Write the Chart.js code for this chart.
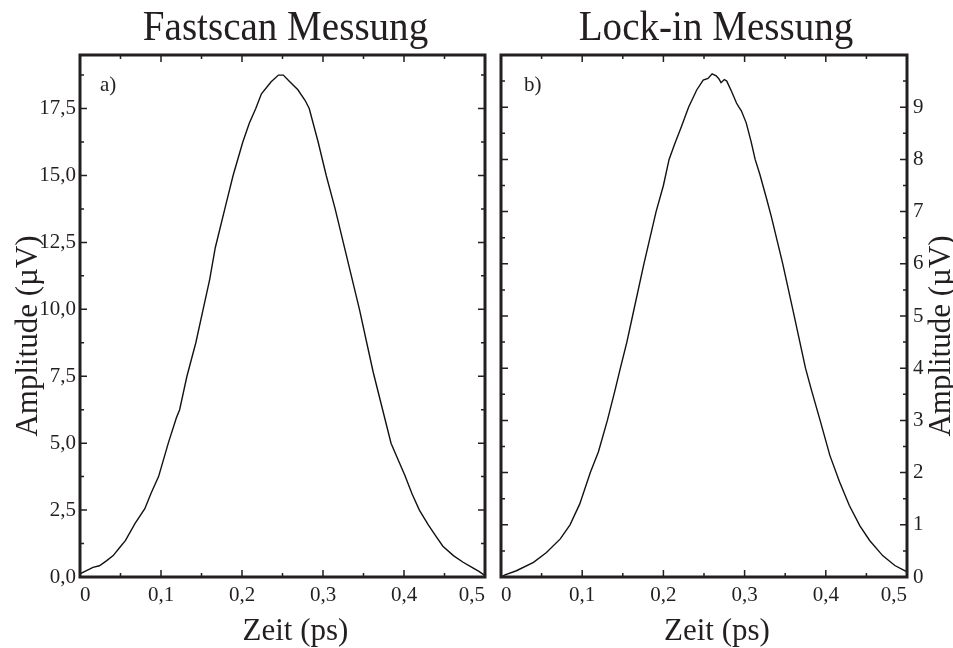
<!DOCTYPE html>
<html>
<head>
<meta charset="utf-8">
<script src="https://cdn.jsdelivr.net/npm/chart.js@4/dist/chart.umd.min.js"></script>
<style>
  html, body { margin: 0; padding: 0; background: #fff; }
  #wrap { position: relative; width: 953px; height: 648px; overflow: hidden; background: #fff; }
  #wrap canvas { position: absolute; top: 0; }
  #panelA { left: 0; }
  #panelB { left: 493px; }
</style>
</head>
<body>
<div id="wrap">
  <canvas id="panelA" width="493" height="648"></canvas>
  <canvas id="panelB" width="460" height="648"></canvas>
</div>
<script>
// Panel a) fast scan: delay time (ps) and amplitude (µV)
const fastTime = [0, 0.008, 0.016, 0.024, 0.033, 0.041, 0.049, 0.056, 0.068, 0.080, 0.088, 0.097,
  0.109, 0.119, 0.123, 0.132, 0.143, 0.152, 0.160, 0.167, 0.180, 0.189, 0.201, 0.209, 0.217, 0.224,
  0.236, 0.245, 0.251, 0.259, 0.269, 0.278, 0.283, 0.294, 0.304, 0.315, 0.325, 0.335, 0.345, 0.354,
  0.362, 0.374, 0.384, 0.391, 0.401, 0.410, 0.419, 0.430, 0.440, 0.448, 0.461, 0.473, 0.485, 0.493, 0.500];
const fastAmp = [0.12, 0.24, 0.36, 0.42, 0.61, 0.80, 1.10, 1.36, 2.00, 2.55, 3.15, 3.75,
  5.00, 5.95, 6.25, 7.50, 8.75, 10.00, 11.10, 12.30, 13.90, 15.00, 16.25, 16.95, 17.50, 18.05,
  18.50, 18.75, 18.75, 18.50, 18.20, 17.80, 17.50, 16.25, 15.00, 13.75, 12.50, 11.25, 10.00, 8.75,
  7.65, 6.20, 5.00, 4.50, 3.80, 3.10, 2.50, 1.95, 1.50, 1.15, 0.80, 0.55, 0.34, 0.20, 0.05];

// Panel b) lock-in: delay time (ps) and amplitude (µV)
const lockTime = [0, 0.005, 0.019, 0.040, 0.056, 0.073, 0.085, 0.097, 0.110, 0.120, 0.131, 0.140,
  0.147, 0.155, 0.162, 0.176, 0.191, 0.200, 0.207, 0.214, 0.222, 0.231, 0.241, 0.249, 0.255, 0.260,
  0.265, 0.268, 0.271, 0.275, 0.278, 0.284, 0.290, 0.293, 0.296, 0.302, 0.308, 0.313, 0.319, 0.327,
  0.333, 0.340, 0.347, 0.360, 0.375, 0.382, 0.393, 0.405, 0.417, 0.429, 0.442, 0.454, 0.470,
  0.485, 0.500];
const lockAmp = [0.00, 0.04, 0.12, 0.28, 0.47, 0.73, 1.00, 1.40, 2.00, 2.40, 3.00, 3.55,
  4.00, 4.50, 5.00, 6.00, 7.00, 7.50, 8.00, 8.30, 8.62, 9.00, 9.33, 9.52, 9.55, 9.64,
  9.60, 9.55, 9.47, 9.53, 9.50, 9.30, 9.08, 9.00, 8.93, 8.70, 8.34, 8.00, 7.70, 7.25,
  6.90, 6.45, 6.00, 5.08, 4.00, 3.60, 3.00, 2.33, 1.82, 1.37, 0.98, 0.70, 0.41,
  0.22, 0.10];

// Tick values and their printed labels (German decimal comma)
const timeTicks = [0, 0.1, 0.2, 0.3, 0.4, 0.5];
const timeTickLabels = ['0', '0,1', '0,2', '0,3', '0,4', '0,5'];
const fastAmpTicks = [0, 2.5, 5, 7.5, 10, 12.5, 15, 17.5];
const fastAmpTickLabels = ['0,0', '2,5', '5,0', '7,5', '10,0', '12,5', '15,0', '17,5'];
const lockAmpTicks = [0, 1, 2, 3, 4, 5, 6, 7, 8, 9];
const lockAmpTickLabels = ['0', '1', '2', '3', '4', '5', '6', '7', '8', '9'];

const panelTitles = ['Fastscan Messung', 'Lock-in Messung'];
const panelLetters = ['a)', 'b)'];
const timeAxisTitle = 'Zeit (ps)';
const ampAxisTitle = 'Amplitude (µV)';

const INK = '#231f20';
const SERIF = '"Liberation Serif", "Times New Roman", "DejaVu Serif", serif';

// minor ticks halfway between majors (plus one past the last major when it fits)
function minorTicks(major, max) {
  const out = [];
  for (let i = 0; i < major.length - 1; i++) out.push((major[i] + major[i + 1]) / 2);
  const step = major[1] - major[0];
  const extra = major[major.length - 1] + step / 2;
  if (extra < max - 1e-9) out.push(extra);
  return out;
}

function drawText(ctx, text, x, y, size, opts) {
  ctx.save();
  ctx.translate(x, y);
  if (opts.rot) ctx.rotate(opts.rot);
  ctx.scale(opts.sx || 1, 1);
  ctx.font = size + 'px ' + SERIF;
  ctx.fillStyle = INK;
  ctx.textAlign = opts.align || 'left';
  ctx.textBaseline = 'alphabetic';
  ctx.fillText(text, 0, 0);
  ctx.restore();
}

// Frame, inward ticks on all four sides, titles and panel letter
const panelDecor = {
  id: 'panelDecor',
  afterDraw(chart, args, o) {
    const { ctx, chartArea: a } = chart;
    const sx = chart.scales.x, sy = chart.scales.y;
    ctx.save();
    ctx.strokeStyle = INK;
    ctx.lineWidth = 1.5;
    ctx.beginPath();
    const xMarks = o.xMajor.map(v => [sx.getPixelForValue(v), 7])
      .concat(o.xMinor.map(v => [sx.getPixelForValue(v), 4]));
    xMarks.forEach(([p, len]) => {
      ctx.moveTo(p, a.bottom); ctx.lineTo(p, a.bottom - len);
      ctx.moveTo(p, a.top); ctx.lineTo(p, a.top + len);
    });
    const yMarks = o.yMajor.map(v => [sy.getPixelForValue(v), 7])
      .concat(o.yMinor.map(v => [sy.getPixelForValue(v), 4]));
    yMarks.forEach(([p, len]) => {
      ctx.moveTo(a.left, p); ctx.lineTo(a.left + len, p);
      ctx.moveTo(a.right, p); ctx.lineTo(a.right - len, p);
    });
    ctx.stroke();
    ctx.lineWidth = 3;
    ctx.strokeRect(a.left, a.top, a.right - a.left, a.bottom - a.top);
    ctx.restore();

    const cx = (a.left + a.right) / 2, cy = (a.top + a.bottom) / 2;
    drawText(ctx, o.title, cx + o.titleDx, 40, 42, { align: 'center', sx: 0.93 });
    drawText(ctx, o.xTitle, cx + 13, 640, 31, { align: 'center' });
    const yx = o.yTitleSide === 'left' ? a.left - 43 : a.right + 43;
    drawText(ctx, o.yTitle, yx, cy + 20, 31, { align: 'center', rot: -Math.PI / 2 });
    drawText(ctx, o.letter, a.left + o.letterDx, a.top + 36, 21, {});
  }
};

function tickFont() { return { family: SERIF, size: 21 }; }

function buildPanel(id, cfg) {
  return new Chart(document.getElementById(id), {
    type: 'line',
    data: {
      datasets: [{
        data: cfg.time.map((t, i) => ({ x: t, y: cfg.amp[i] })),
        borderColor: '#111',
        borderWidth: 1.4,
        pointRadius: 0,
        tension: 0,
        fill: false
      }]
    },
    options: {
      responsive: false,
      animation: false,
      events: [],
      layout: { padding: cfg.padding },
      scales: {
        x: {
          type: 'linear', min: 0, max: 0.5,
          grid: { display: false, drawTicks: false },
          border: { display: false },
          afterBuildTicks: s => { s.ticks = timeTicks.map(v => ({ value: v })); },
          afterFit: s => { s.height = 71; s.paddingLeft = 0; s.paddingRight = 0; },
          ticks: {
            autoSkip: false, maxRotation: 0, align: 'inner', padding: 6,
            color: INK, font: tickFont(),
            callback: (v, i) => timeTickLabels[i]
          }
        },
        y: {
          type: 'linear', position: cfg.yPos, min: 0, max: cfg.yMax,
          grid: { display: false, drawTicks: false },
          border: { display: false },
          afterBuildTicks: s => { s.ticks = cfg.yTicks.map(v => ({ value: v })); },
          afterFit: s => { s.width = cfg.yWidth; s.paddingTop = 0; s.paddingBottom = 0; },
          ticks: {
            autoSkip: false, padding: cfg.yPad,
            color: INK, font: tickFont(),
            callback: (v, i) => cfg.yLabels[i]
          }
        }
      },
      plugins: {
        legend: { display: false },
        tooltip: { enabled: false },
        title: { display: false },
        panelDecor: {
          xMajor: timeTicks, xMinor: minorTicks(timeTicks, 0.5),
          yMajor: cfg.yTicks, yMinor: minorTicks(cfg.yTicks, cfg.yMax),
          title: cfg.title, titleDx: cfg.titleDx,
          xTitle: timeAxisTitle, yTitle: ampAxisTitle, yTitleSide: cfg.yPos,
          letter: cfg.letter, letterDx: cfg.letterDx
        }
      }
    },
    plugins: [panelDecor]
  });
}

buildPanel('panelA', {
  time: fastTime, amp: fastAmp,
  yTicks: fastAmpTicks, yLabels: fastAmpTickLabels, yMax: 19.5,
  yPos: 'left', yWidth: 80, yPad: 4,
  padding: { left: 0, right: 8, top: 55, bottom: 0 },
  title: panelTitles[0], titleDx: 3, letter: panelLetters[0], letterDx: 20
});

buildPanel('panelB', {
  time: lockTime, amp: lockAmp,
  yTicks: lockAmpTicks, yLabels: lockAmpTickLabels, yMax: 10,
  yPos: 'right', yWidth: 46, yPad: 6,
  padding: { left: 8, right: 0, top: 55, bottom: 0 },
  title: panelTitles[1], titleDx: 12, letter: panelLetters[1], letterDx: 23
});
</script>
</body>
</html>
